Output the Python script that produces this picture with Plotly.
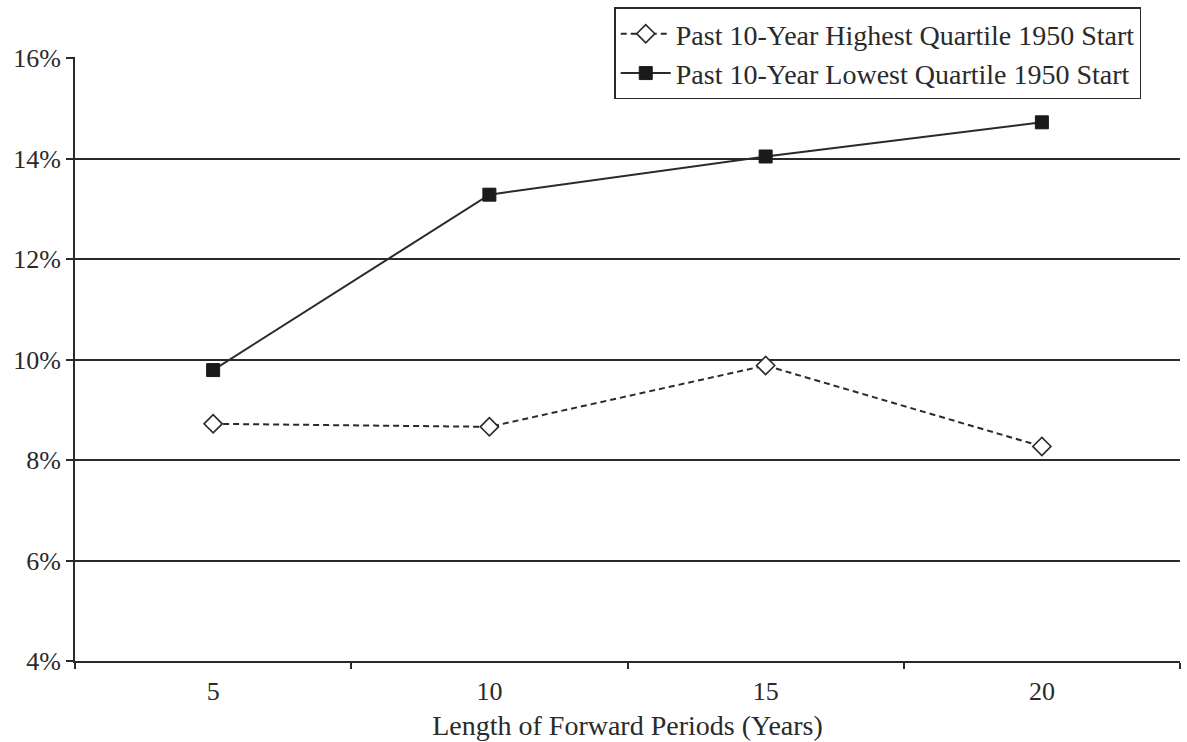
import plotly.graph_objects as go

# Forward period lengths (years) and annualized returns (%)
periods = ["5", "10", "15", "20"]
highest_quartile = [8.72, 8.66, 9.88, 8.27]
lowest_quartile = [9.79, 13.28, 14.04, 14.72]
y_ticks = [4, 6, 8, 10, 12, 14, 16]
y_tick_labels = ["4%", "6%", "8%", "10%", "12%", "14%", "16%"]

serif = "Liberation Serif, 'Times New Roman', serif"
ink = "#2a2a2a"

fig = go.Figure()

fig.add_trace(go.Scatter(
    x=periods, y=highest_quartile, mode="lines+markers",
    name="Past 10-Year Highest Quartile 1950 Start",
    line=dict(color=ink, width=2, dash="6px,4px"),
    marker=dict(symbol="diamond", size=14, color="white",
                line=dict(color=ink, width=1.6)),
))

fig.add_trace(go.Scatter(
    x=periods, y=lowest_quartile, mode="lines+markers",
    name="Past 10-Year Lowest Quartile 1950 Start",
    line=dict(color=ink, width=2),
    marker=dict(symbol="square", size=13, color="#1a1a1a",
                line=dict(color="#1a1a1a", width=1)),
))

fig.update_layout(
    width=1187, height=742,
    margin=dict(l=75, r=7, t=57, b=81),
    paper_bgcolor="white", plot_bgcolor="white",
    font=dict(family=serif, size=26, color=ink),
    showlegend=True,
    legend=dict(
        x=0.488, y=1.082, xanchor="left", yanchor="top",
        bgcolor="white", bordercolor=ink, borderwidth=1.5,
        font=dict(family=serif, size=28, color=ink),
        tracegroupgap=0, itemwidth=50,
    ),
    xaxis=dict(
        type="category", tickson="boundaries",
        ticks="outside", ticklen=6, tickwidth=1.5, tickcolor=ink,
        showline=True, linecolor=ink, linewidth=2,
        showgrid=False, zeroline=False,
        range=[-0.5, 3.5],
        ticklabelstandoff=6,
        title=dict(text="Length of Forward Periods (Years)", standoff=10,
                   font=dict(family=serif, size=28, color=ink)),
        tickfont=dict(family=serif, size=26, color=ink),
    ),
    yaxis=dict(
        range=[4, 16.02], tickvals=y_ticks, ticktext=y_tick_labels,
        ticks="outside", ticklen=7, tickwidth=1.5, tickcolor=ink,
        showline=True, linecolor=ink, linewidth=2,
        showgrid=True, gridcolor=ink, gridwidth=1.5,
        zeroline=False,
        tickfont=dict(family=serif, size=26, color=ink),
    ),
)

fig.write_html("out.html")
